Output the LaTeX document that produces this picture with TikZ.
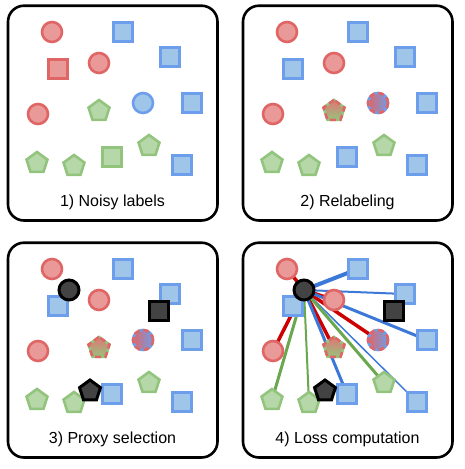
\documentclass[tikz,border=0pt]{standalone}
\usepackage{fontspec}
\setmainfont{Liberation Sans}
\usetikzlibrary{shapes.geometric,backgrounds}

\definecolor{redfill}{HTML}{EA9999}
\definecolor{redline}{HTML}{E06666}
\definecolor{bluefill}{HTML}{9FC5E8}
\definecolor{blueline}{HTML}{6D9EEB}
\definecolor{greenfill}{HTML}{B6D7A8}
\definecolor{greenline}{HTML}{93C47D}
\definecolor{proxyfill}{HTML}{434343}
\definecolor{linkred}{HTML}{CC0000}
\definecolor{linkblue}{HTML}{3C78D8}
\definecolor{linkgreen}{HTML}{6AA84F}

\tikzset{
  sample/.style={line width=2.6pt, inner sep=0pt},
  redcirc/.style={sample, circle, minimum size=20pt, draw=redline, fill=redfill},
  bluecirc/.style={sample, circle, minimum size=20pt, draw=blueline, fill=bluefill},
  redsq/.style={sample, rectangle, minimum size=19pt, draw=redline, fill=redfill},
  bluesq/.style={sample, rectangle, minimum size=19pt, draw=blueline, fill=bluefill},
  greensq/.style={sample, rectangle, minimum size=19pt, draw=greenline, fill=greenfill},
  greenpent/.style={sample, regular polygon, regular polygon sides=5, minimum size=22pt, draw=greenline, fill=greenfill},
  mixpent/.style={sample, regular polygon, regular polygon sides=5, minimum size=22pt, draw=greenline, top color=redline!90!white, bottom color=greenline},
  mixcirc/.style={sample, circle, minimum size=20pt, draw=blueline, left color=redline, right color=blueline},
  rededge/.style={draw=redline, dash pattern=on 6pt off 3.5pt},
  proxy/.style={line width=3pt, inner sep=0pt, draw=black, fill=proxyfill},
  panel/.style={line width=2.6pt, rounded corners=16pt},
  paneltext/.style={anchor=base, font=\fontsize{16}{19}\selectfont},
}

% points after relabeling, #1 = name prefix
\newcommand{\relabeledpoints}[1]{%
  \foreach \n/\x/\y in {a/52/32, e/99/63, f/38/114}
    \node[redcirc] (#1\n) at (\x,\y) {};
  \foreach \n/\x/\y in {b/123/32, c/170/57, d/58/69, i/192/103, l/112/157, n/182/165}
    \node[bluesq] (#1\n) at (\x,\y) {};
  \foreach \n/\x/\y in {j/37/163, k/74/166, m/149/146}
    \node[greenpent] (#1\n) at (\x,\y) {};
  \node[mixpent] (#1g) at (99,111) {};
  \node[sample, regular polygon, regular polygon sides=5, minimum size=22pt, rededge] (#1gx) at (99,111) {};
  \node[mixcirc] (#1h) at (143,103) {};
  \node[sample, circle, minimum size=20pt, rededge] (#1hx) at (143,103) {};
}

% selected proxies, #1 = name prefix
\newcommand{\proxypoints}[1]{%
  \node[proxy, circle, minimum size=20pt] (#1pc) at (69,53) {};
  \node[proxy, rectangle, minimum size=19pt] (#1ps) at (159,74) {};
  \node[proxy, regular polygon, regular polygon sides=5, minimum size=22pt] (#1pp) at (90,154) {};
}

\begin{document}
\begin{tikzpicture}[x=1pt,y=-1pt]
  \useasboundingbox (0,0) rectangle (465,469);

  % 1) noisy labels
  \draw[panel] (8,5.7) rectangle (217.5,220.5);
  \foreach \n/\x/\y in {a/52/32, e/99/63, f/38/114}
    \node[redcirc] (a\n) at (\x,\y) {};
  \node[redsq] (ad) at (58,69) {};
  \foreach \n/\x/\y in {b/123/32, c/170/57, i/192/103, n/182/165}
    \node[bluesq] (a\n) at (\x,\y) {};
  \node[bluecirc] (ah) at (143,103) {};
  \foreach \n/\x/\y in {g/99/111, j/37/163, k/74/166, m/149/146}
    \node[greenpent] (a\n) at (\x,\y) {};
  \node[greensq] (al) at (112,157) {};
  \node[paneltext] (atext) at (112.5,206) {1) Noisy labels};

  % 2) relabeling
  \begin{scope}[shift={(235,0)}]
    \draw[panel] (8,5.7) rectangle (217.5,220.5);
    \relabeledpoints{b}
    \node[paneltext] (btext) at (112.5,206) {2) Relabeling};
  \end{scope}

  % 3) proxy selection
  \begin{scope}[shift={(0,237)}]
    \draw[panel] (8,5.7) rectangle (217.5,220.5);
    \relabeledpoints{c}
    \proxypoints{c}
    \node[paneltext] (ctext) at (112.5,206) {3) Proxy selection};
  \end{scope}

  % 4) loss computation
  \begin{scope}[shift={(235,237)}]
    \draw[panel] (8,5.7) rectangle (217.5,220.5);
    \relabeledpoints{d}
    \proxypoints{d}
    \node[paneltext] (dtext) at (112.5,206) {4) Loss computation};
  \end{scope}

  \begin{pgfonlayer}{background}
    \foreach \t in {a,e,f,g,h}
      \draw[linkred, line width=3.5pt] (dpc.center) -- (d\t.center);
    \foreach \t/\w in {b/4, c/2, i/3, l/3, n/1.5}
      \draw[linkblue, line width=\w pt] (dpc.center) -- (d\t.center);
    \foreach \t/\w in {j/3, k/2, m/3}
      \draw[linkgreen, line width=\w pt] (dpc.center) -- (d\t.center);
  \end{pgfonlayer}
\end{tikzpicture}
\end{document}
